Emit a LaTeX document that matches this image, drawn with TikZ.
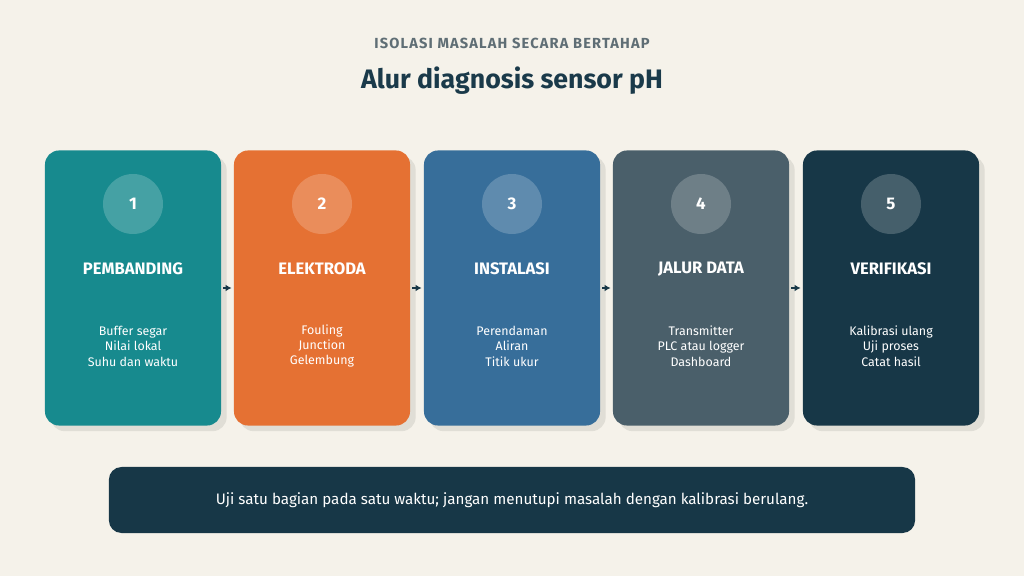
\documentclass[tikz,border=0pt]{standalone}
\usepackage{fontspec}
\setmainfont{Fira Sans}
\usetikzlibrary{positioning,arrows.meta,shadows}
\definecolor{paper}{HTML}{F5F2EA}
\definecolor{ink}{HTML}{1A3A4A}
\definecolor{subgray}{HTML}{5F6E75}
\definecolor{shadowgray}{HTML}{E0DED6}
\definecolor{teal}{HTML}{178A8E}
\definecolor{orange}{HTML}{E57133}
\definecolor{steel}{HTML}{376E9A}
\definecolor{slate}{HTML}{4A5F6A}
\definecolor{navy}{HTML}{173747}

\begin{document}
\begin{tikzpicture}[x=0.025cm,y=-0.025cm,
 card/.style={rounded corners=10pt,minimum width=4.4cm,minimum height=6.875cm,inner sep=0pt,
   drop shadow={shadow xshift=4pt,shadow yshift=-4pt,fill=shadowgray,opacity=1}},
 num/.style={circle,fill=white,fill opacity=.2,text opacity=1,text=white,minimum size=1.5cm,inner sep=0pt,font=\fontsize{12}{14}\selectfont\bfseries},
 ttl/.style={text=white,font=\fontsize{11.8}{14}\selectfont\bfseries},
 body/.style={text=white,align=center,font=\fontsize{8.85}{11}\selectfont},
 arr/.style={-{Latex[length=1.5mm,width=1.7mm]},line width=1.3pt,draw=navy,shorten <=1.5pt,shorten >=1.5pt}]
\fill[paper] (0,0) rectangle (1024,576);
\node[text=subgray,font=\fontsize{10.4}{12}\selectfont\bfseries\addfontfeatures{LetterSpace=8}] (kicker) at (512,43) {ISOLASI MASALAH SECARA BERTAHAP};
\node[text=ink,font=\fontsize{19}{22}\selectfont\bfseries] (title) at (512,81) {Alur diagnosis sensor pH};
% kartu langkah
\node[card,fill=teal] (k1) at (133,288) {};
\node[card,fill=orange] (k2) at (322,288) {};
\node[card,fill=steel] (k3) at (512,288) {};
\node[card,fill=slate] (k4) at (701,288) {};
\node[card,fill=navy] (k5) at (891,288) {};
\node[num] (n1) at (133,204) {1};\node[num] (n2) at (322,204) {2};\node[num] (n3) at (512,204) {3};
\node[num] (n4) at (701,204) {4};\node[num] (n5) at (891,204) {5};
\node[ttl] (t1) at (133,269) {PEMBANDING};\node[ttl] (t2) at (322,269) {ELEKTRODA};
\node[ttl] (t3) at (512,269) {INSTALASI};\node[ttl] (t4) at (701,269) {JALUR DATA};
\node[ttl] (t5) at (891,269) {VERIFIKASI};
\node[body] (b1) at (133,346) {Buffer segar\\Nilai lokal\\Suhu dan waktu};
\node[body] (b2) at (322,346) {Fouling\\Junction\\Gelembung};
\node[body] (b3) at (512,346) {Perendaman\\Aliran\\Titik ukur};
\node[body] (b4) at (701,346) {Transmitter\\PLC atau logger\\Dashboard};
\node[body] (b5) at (891,346) {Kalibrasi ulang\\Uji proses\\Catat hasil};
\draw[arr](k1)--(k2);\draw[arr](k2)--(k3);\draw[arr](k3)--(k4);\draw[arr](k4)--(k5);
% catatan bawah
\node[fill=navy,rounded corners=9pt,minimum width=20.15cm,minimum height=1.65cm,text=white,
 font=\fontsize{10.8}{13}\selectfont] (note) at (512,500) {Uji satu bagian pada satu waktu; jangan menutupi masalah dengan kalibrasi berulang.};
\end{tikzpicture}
\end{document}
